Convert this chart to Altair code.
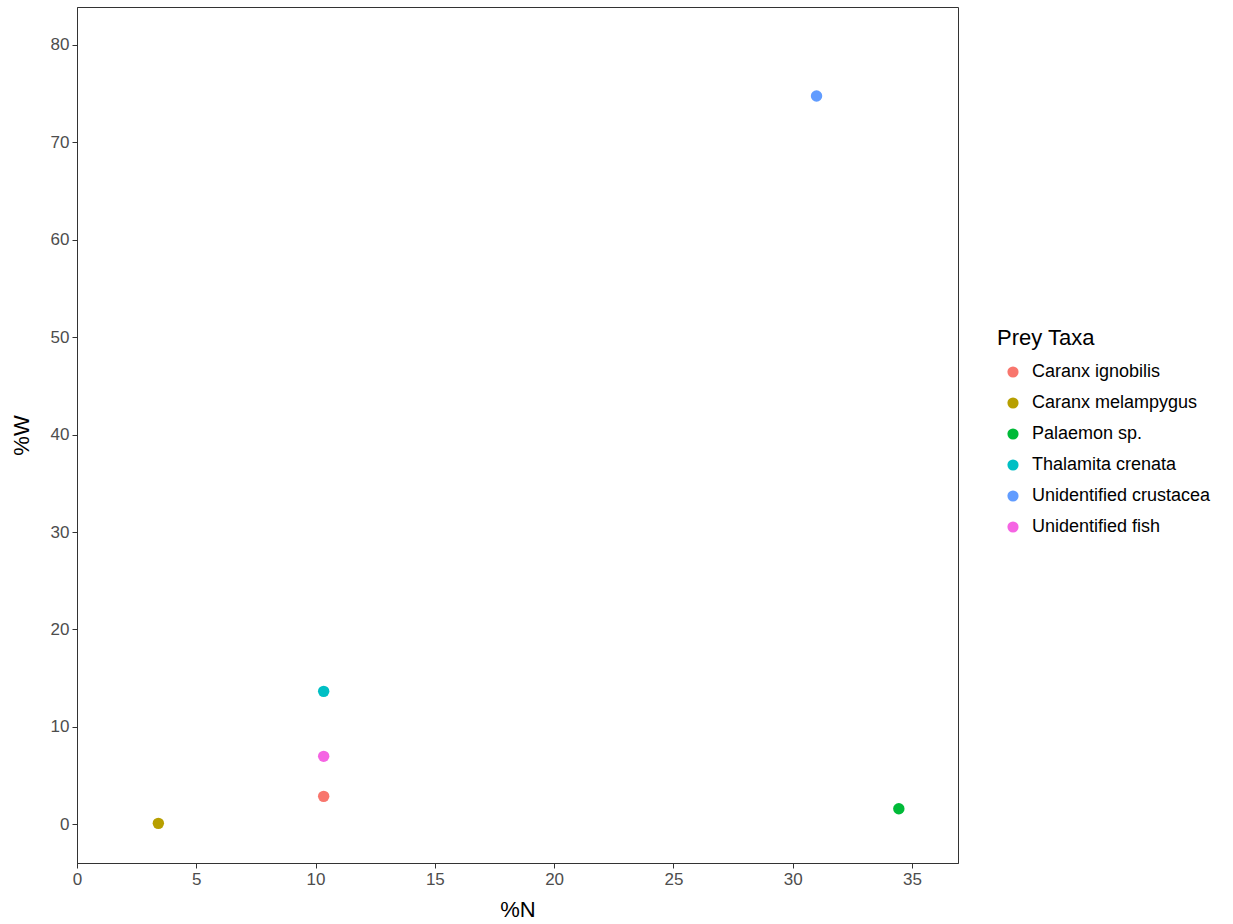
import altair as alt
import pandas as pd

# Prey composition: percent by number (%N) vs percent by weight (%W)
taxa = [
    "Caranx ignobilis",
    "Caranx melampygus",
    "Palaemon sp.",
    "Thalamita crenata",
    "Unidentified crustacea",
    "Unidentified fish",
]
pct_n = [10.34, 3.41, 34.45, 10.34, 31.0, 10.34]
pct_w = [2.87, 0.1, 1.6, 13.65, 74.77, 6.98]
palette = ["#F8766D", "#B79F00", "#00BA38", "#00BFC4", "#619CFF", "#F564E3"]

df = pd.DataFrame({"taxa": taxa, "N": pct_n, "W": pct_w})

FONT = "Liberation Sans"

chart = (
    alt.Chart(df)
    .mark_circle(size=130, opacity=1)
    .encode(
        x=alt.X(
            "N:Q",
            title="%N",
            scale=alt.Scale(domain=[0, 36.93], nice=False, zero=False),
            axis=alt.Axis(values=[0, 5, 10, 15, 20, 25, 30, 35], grid=False),
        ),
        y=alt.Y(
            "W:Q",
            title="%W",
            scale=alt.Scale(domain=[-3.97, 83.9], nice=False, zero=False),
            axis=alt.Axis(values=[0, 10, 20, 30, 40, 50, 60, 70, 80], grid=False),
        ),
        color=alt.Color(
            "taxa:N",
            title="Prey Taxa",
            scale=alt.Scale(domain=taxa, range=palette),
            legend=alt.Legend(
                orient="none",
                legendX=920,
                legendY=321,
                symbolType="circle",
                symbolSize=125,
                symbolOpacity=1,
                symbolOffset=7,
                rowPadding=13,
                labelFontSize=18,
                labelColor="#000000",
                labelFont=FONT,
                labelLimit=400,
                titleFontSize=22,
                titleFontWeight="normal",
                titleColor="#000000",
                titleFont=FONT,
                titleLimit=400,
                titlePadding=13,
                labelOffset=10,
            ),
        ),
    )
    .properties(
        width=881,
        height=856,
        autosize=alt.AutoSizeParams(type="none"),
        padding={"left": 77, "top": 7, "right": 275, "bottom": 61},
    )
    .configure_view(stroke="#333333", strokeWidth=1)
    .configure_axis(
        domainColor="#333333",
        domainWidth=1,
        tickColor="#333333",
        tickSize=5,
        tickWidth=1,
        labelFont=FONT,
        labelFontSize=17,
        labelColor="#4D4D4D",
        labelPadding=3,
        labelFlush=False,
        titleFont=FONT,
        titleFontSize=22,
        titleFontWeight="normal",
        titleColor="#000000",
    )
    .configure_axisX(titlePadding=12)
    .configure_axisY(titlePadding=17)
)

chart.save("out.html", embed_options={"renderer": "svg", "actions": False})
